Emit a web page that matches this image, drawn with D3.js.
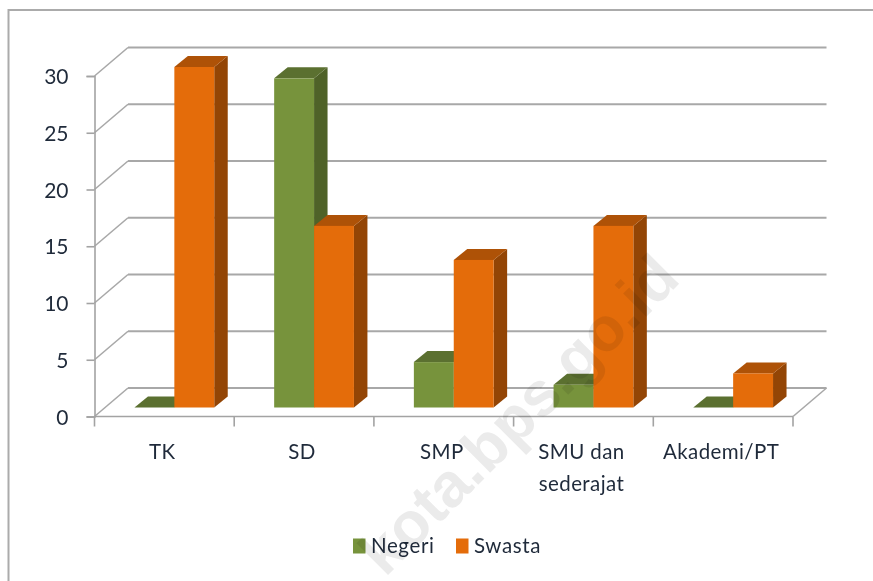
<!DOCTYPE html>
<html>
<head>
<meta charset="utf-8">
<script src="https://cdnjs.cloudflare.com/ajax/libs/d3/7.8.5/d3.min.js"></script>
<style>
    html, body { margin: 0; padding: 0; background: #fff; }
    svg { display: block; filter: blur(0.45px); }
    text { font-family: "Lato", sans-serif; fill: #1f2a3a; }
    .axis path, .axis line { stroke: #a3a3a3; stroke-width: 1.6px; fill: none; }
    .grid line { stroke: #a8a8a8; stroke-width: 2px; }
</style>
</head>
<body>
<div id="chart-area"></div>
<script>
// values
var categories = ["TK", "SD", "SMP", "SMU dan sederajat", "Akademi/PT"];
var negeri = [0, 29, 4, 2, 0];
var swasta = [30, 16, 13, 16, 3];
var seriesNames = ["Negeri", "Swasta"];
var yTicks = [0, 5, 10, 15, 20, 25, 30];

var svgWidth = 873, svgHeight = 581;
var margin = {left: 94.5, right: 80, top: 76, bottom: 164.5};
var height = svgHeight - margin.top - margin.bottom,
    width = svgWidth - margin.left - margin.right;

// depth of the fake 3d box and of the bars
var wallDx = 33.5, wallDy = -28.5;
var barOffsetX = 10, barOffsetY = -9;
var barDx = 13.5, barDy = -11;

var colors = {
    Negeri: {front: "#77933c", top: "#5b7030", side: "#4f6228"},
    Swasta: {front: "#e46c0a", top: "#ae5207", side: "#934505"}
};

var svg = d3.select("#chart-area")
    .append("svg")
    .attr("width", svgWidth)
    .attr("height", svgHeight);

// frame, only top and left show in the picture
svg.append("path")
    .attr("d", "M8.5," + svgHeight + "V10H" + svgWidth)
    .attr("fill", "none")
    .attr("stroke", "#ababab")
    .attr("stroke-width", 2);

var g = svg.append("g")
    .attr("transform", "translate(" + margin.left + ", " + margin.top + ")");

var x = d3.scaleBand()
    .domain(categories)
    .range([0, width]);

var y = d3.scaleLinear()
    .domain([0, 30])
    .range([height, 0]);

// bar widths inside one category
var x1 = d3.scaleBand()
    .domain(seriesNames)
    .range([x.bandwidth() * 0.2145, x.bandwidth() * 0.7855]);

// back wall lines and the slanted ones on the left wall
var grid = g.append("g").attr("class", "grid");
grid.selectAll(".back")
    .data(yTicks)
    .enter()
    .append("line")
    .attr("class", "back")
    .attr("x1", wallDx)
    .attr("x2", width + wallDx)
    .attr("y1", function (d) { return y(d) + wallDy; })
    .attr("y2", function (d) { return y(d) + wallDy; });
grid.selectAll(".slant")
    .data(yTicks)
    .enter()
    .append("line")
    .attr("class", "slant")
    .attr("x1", 0)
    .attr("x2", wallDx)
    .attr("y1", function (d) { return y(d); })
    .attr("y2", function (d) { return y(d) + wallDy; })
    .style("stroke-width", "1.6px");
// right edge of the floor
grid.append("line")
    .attr("x1", width)
    .attr("x2", width + wallDx)
    .attr("y1", y(0))
    .attr("y2", y(0) + wallDy)
    .style("stroke-width", "1.6px");

// y axis
var yAxisCall = d3.axisLeft(y)
    .tickValues(yTicks)
    .tickSize(8)
    .tickPadding(18);
var yAxis = g.append("g")
    .attr("class", "y axis")
    .call(yAxisCall);
yAxis.selectAll("text")
    .attr("font-size", "21px")
    .attr("dy", "0.36em");

// x axis, ticks sit between the categories
var xAxis = g.append("g")
    .attr("class", "x axis")
    .attr("transform", "translate(0," + height + ")");
xAxis.append("line")
    .attr("x1", 0)
    .attr("x2", width);
xAxis.selectAll(".sep")
    .data(d3.range(categories.length + 1))
    .enter()
    .append("line")
    .attr("class", "sep")
    .attr("x1", function (i) { return i * x.step(); })
    .attr("x2", function (i) { return i * x.step(); })
    .attr("y1", 0)
    .attr("y2", 10);
xAxis.selectAll(".cat")
    .data(categories)
    .enter()
    .append("text")
    .attr("class", "cat")
    .attr("text-anchor", "middle")
    .attr("font-size", "20.5px")
    .attr("letter-spacing", "0.4px")
    .attr("transform", function (d) {
        return "translate(" + (x(d) + x.bandwidth() / 2 - 2) + ",42.5)";
    })
    .each(function (d) {
        var label = d3.select(this);
        var lines = d === "SMU dan sederajat" ? ["SMU dan", "sederajat"] : [d];
        lines.forEach(function (t, i) {
            label.append("tspan")
                .attr("x", 0)
                .attr("y", i * 32)
                .text(t);
        });
    });

// bars, negeri first so the swasta bar covers its side
var bars = g.append("g")
    .attr("transform", "translate(" + barOffsetX + "," + barOffsetY + ")");

function drawBar(name, cat, value) {
    var c = colors[name];
    var x0 = x(cat) + x1(name);
    var x2 = x0 + x1.bandwidth();
    var y0 = y(0);
    var yv = y(value);
    var bar = bars.append("g").attr("class", "bar");
    // zero values only leave the flat top
    if (value > 0) {
        bar.append("path")
            .attr("d", "M" + x2 + "," + y0 + "L" + (x2 + barDx) + "," + (y0 + barDy) +
                "V" + (yv + barDy) + "L" + x2 + "," + yv + "Z")
            .attr("fill", c.side);
    }
    bar.append("path")
        .attr("d", "M" + x0 + "," + yv + "L" + (x0 + barDx) + "," + (yv + barDy) +
            "H" + (x2 + barDx) + "L" + x2 + "," + yv + "Z")
        .attr("fill", c.top);
    if (value > 0) {
        bar.append("rect")
            .attr("x", x0)
            .attr("y", yv)
            .attr("width", x1.bandwidth())
            .attr("height", y0 - yv)
            .attr("fill", c.front);
    }
}

for (var i = 0; i < categories.length; i++) {
    drawBar("Negeri", categories[i], negeri[i]);
    drawBar("Swasta", categories[i], swasta[i]);
}

// legend
var legendX = {Negeri: 353, Swasta: 456};
var legend = svg.append("g").attr("class", "legend");
seriesNames.forEach(function (name) {
    legend.append("rect")
        .attr("x", legendX[name])
        .attr("y", 538.5)
        .attr("width", 12.5)
        .attr("height", 15)
        .attr("fill", colors[name].front);
    legend.append("text")
        .attr("x", legendX[name] + 18)
        .attr("y", 553)
        .attr("font-size", "20.5px")
        .attr("letter-spacing", "0.6px")
        .text(name);
});

// watermark over everything
svg.append("text")
    .attr("transform", "translate(385,578) rotate(-45)")
    .attr("font-size", "62px")
    .attr("font-weight", "bold")
    .style("font-family", "Liberation Sans, sans-serif")
    .style("fill", "#000")
    .attr("opacity", 0.08)
    .text("kota.bps.go.id");
</script>
</body>
</html>
